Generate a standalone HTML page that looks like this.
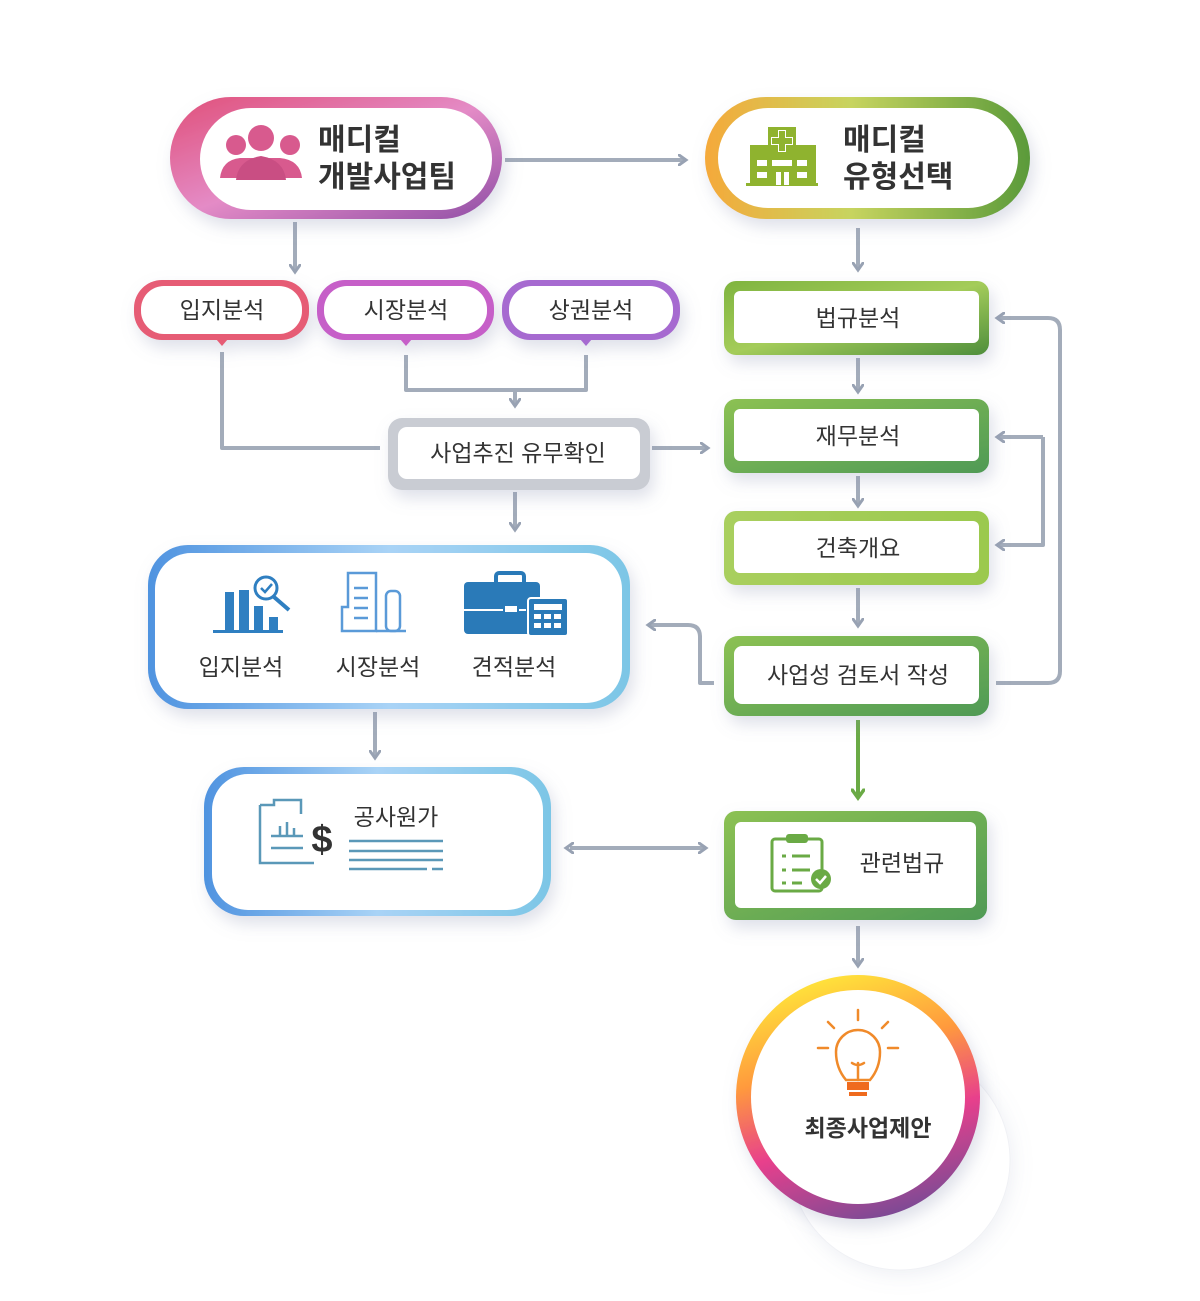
<!DOCTYPE html>
<html><head><meta charset="utf-8"><style>
html,body{margin:0;padding:0;background:#fff}
svg{display:block}
text{font-family:"Liberation Sans","Noto Sans CJK KR",sans-serif;fill:#333}
</style></head><body>
<svg width="1200" height="1301" viewBox="0 0 1200 1301" xmlns="http://www.w3.org/2000/svg">
<defs>
<linearGradient id="gPink" x1="0" y1="0" x2="1" y2="1"><stop offset="0" stop-color="#e0507a"/><stop offset="0.5" stop-color="#e48bc6"/><stop offset="1" stop-color="#8f4ea6"/></linearGradient>
<linearGradient id="gOG" x1="0" y1="0" x2="1" y2="0"><stop offset="0" stop-color="#f5a93a"/><stop offset="0.45" stop-color="#c7d45f"/><stop offset="1" stop-color="#5a9a3a"/></linearGradient>
<linearGradient id="gGreen" x1="0" y1="0" x2="1" y2="1"><stop offset="0" stop-color="#7fb43f"/><stop offset="0.5" stop-color="#a4cc5a"/><stop offset="1" stop-color="#4f8e3c"/></linearGradient>
<linearGradient id="gGreen2" x1="0" y1="0" x2="1" y2="1"><stop offset="0" stop-color="#8cc152"/><stop offset="1" stop-color="#4f9a55"/></linearGradient>
<linearGradient id="gLG" x1="0" y1="0" x2="1" y2="0"><stop offset="0" stop-color="#a9cf5e"/><stop offset="1" stop-color="#9bc94e"/></linearGradient>
<linearGradient id="gBlue" x1="0" y1="0" x2="1" y2="0"><stop offset="0" stop-color="#4f93e0"/><stop offset="0.5" stop-color="#a9d3f6"/><stop offset="1" stop-color="#7cc6e6"/></linearGradient>
<linearGradient id="gRing" x1="0.3" y1="0" x2="0.6" y2="1"><stop offset="0" stop-color="#ffe83a"/><stop offset="0.35" stop-color="#ff9a3d"/><stop offset="0.65" stop-color="#e8408c"/><stop offset="1" stop-color="#7c4a95"/></linearGradient>
<filter id="sh" x="-20%" y="-20%" width="140%" height="160%"><feDropShadow dx="4" dy="8" stdDeviation="8" flood-color="#8890b0" flood-opacity="0.28"/></filter>
<filter id="sh2" x="-30%" y="-30%" width="160%" height="160%"><feDropShadow dx="2" dy="4" stdDeviation="10" flood-color="#8890b0" flood-opacity="0.15"/></filter>
<marker id="ah" viewBox="0 0 12 12" refX="8" refY="6" markerWidth="12" markerHeight="12" markerUnits="userSpaceOnUse" orient="auto"><path d="M1,1 L8,6 L1,11" fill="none" stroke="#98a2b3" stroke-width="3" stroke-linecap="round"/></marker>
<marker id="ahs" viewBox="0 0 12 12" refX="4" refY="6" markerWidth="12" markerHeight="12" markerUnits="userSpaceOnUse" orient="auto-start-reverse"><path d="M1,1 L8,6 L1,11" fill="none" stroke="#98a2b3" stroke-width="3" stroke-linecap="round"/></marker>
<marker id="ahg" viewBox="0 0 12 12" refX="8" refY="6" markerWidth="14" markerHeight="14" markerUnits="userSpaceOnUse" orient="auto"><path d="M1,1 L8,6 L1,11" fill="none" stroke="#6aaa45" stroke-width="3" stroke-linecap="round"/></marker>
</defs>

<g fill="none" stroke="#a3acba" stroke-width="4" stroke-linejoin="round">
<path d="M505,160 H686" marker-end="url(#ah)"/>
<path d="M295,222 V272" marker-end="url(#ah)"/>
<path d="M858,228 V270" marker-end="url(#ah)"/>
<path d="M222,352 V448 H380"/>
<path d="M406,355 V390 H586 V355"/>
<path d="M515,390 V406" marker-end="url(#ah)"/>
<path d="M652,448 H708" marker-end="url(#ah)"/>
<path d="M515,492 V530" marker-end="url(#ah)"/>
<path d="M858,358 V392" marker-end="url(#ah)"/>
<path d="M858,476 V506" marker-end="url(#ah)"/>
<path d="M858,588 V626" marker-end="url(#ah)"/>
<path d="M996,683 H1048 Q1060,683 1060,671 V330 Q1060,318 1048,318 H997" marker-end="url(#ah)"/>
<path d="M1043,437 V545 H997" marker-end="url(#ah)"/>
<path d="M1043,437 H997" marker-end="url(#ah)"/>
<path d="M714,683 H700 V637 Q700,625 688,625 H648" marker-end="url(#ah)"/>
<path d="M375,712 V758" marker-end="url(#ah)"/>
<path d="M570,848 H706" marker-start="url(#ahs)" marker-end="url(#ah)"/>
<path d="M858,926 V966" marker-end="url(#ah)"/>
</g>
<path d="M858,720 V798" stroke="#6aaa45" stroke-width="4" fill="none" marker-end="url(#ahg)"/>

<g filter="url(#sh)">
<rect x="170" y="97" width="332" height="122" rx="61" fill="url(#gPink)"/>
<rect x="200" y="108" width="292" height="102" rx="51" fill="#fff"/>
</g>
<g fill="#d85a8e">
<circle cx="236" cy="145" r="10"/><circle cx="290" cy="145" r="10"/><circle cx="261" cy="138" r="13"/>
<path d="M220,178 Q222,160 240,158 H280 Q300,160 302,178 Z"/>
<path d="M236,180 Q238,160 261,156 Q284,160 286,180 Z" fill="#c94e83"/>
</g>
<text x="318" y="150" font-size="30" font-weight="bold" fill="#222">매디컬</text>
<text x="318" y="187" font-size="30" font-weight="bold" fill="#222">개발사업팀</text>

<g filter="url(#sh)">
<rect x="705" y="97" width="325" height="122" rx="61" fill="url(#gOG)"/>
<rect x="718" y="108" width="300" height="100" rx="50" fill="#fff"/>
</g>
<g fill="#8fb32f">
<rect x="768" y="127" width="28" height="30"/>
<rect x="750" y="145" width="66" height="40"/>
<rect x="746" y="183" width="72" height="3"/>
</g>
<g fill="#fff"><rect x="778" y="130" width="8" height="22"/><rect x="771" y="137" width="22" height="8"/>
<rect x="757" y="160" width="10" height="6"/><rect x="772" y="160" width="20" height="6"/><rect x="797" y="160" width="10" height="6"/>
<rect x="757" y="172" width="10" height="6"/><rect x="797" y="172" width="10" height="6"/><rect x="776" y="172" width="5" height="13"/><rect x="784" y="172" width="5" height="13"/></g>
<g fill="#8fb32f"><rect x="779" y="131" width="6" height="20"/><rect x="772" y="138" width="20" height="6"/></g>
<text x="843" y="150" font-size="30" font-weight="bold" fill="#222">매디컬</text>
<text x="843" y="187" font-size="30" font-weight="bold" fill="#222">유형선택</text>

<g filter="url(#sh)">
<rect x="134" y="280" width="175" height="60" rx="28" fill="#e65b74"/>
<rect x="141" y="286" width="161" height="48" rx="23" fill="#fff"/>
<path d="M216,339 L222,346 L228,339 Z" fill="#e65b74"/>
<rect x="317" y="280" width="177" height="60" rx="28" fill="#c65ec8"/>
<rect x="324" y="286" width="163" height="48" rx="23" fill="#fff"/>
<path d="M400,339 L406,346 L412,339 Z" fill="#c65ec8"/>
<rect x="502" y="280" width="178" height="60" rx="28" fill="#a66bd0"/>
<rect x="509" y="286" width="164" height="48" rx="23" fill="#fff"/>
<path d="M580,339 L586,346 L592,339 Z" fill="#a66bd0"/>
</g>
<text x="222" y="318" font-size="23" text-anchor="middle">입지분석</text>
<text x="406" y="318" font-size="23" text-anchor="middle">시장분석</text>
<text x="591" y="318" font-size="23" text-anchor="middle">상권분석</text>

<g filter="url(#sh)">
<rect x="388" y="418" width="262" height="72" rx="14" fill="#c9ccd3"/>
<rect x="398" y="427" width="242" height="52" rx="9" fill="#fff"/>
</g>
<text x="518" y="461" font-size="23" text-anchor="middle">사업추진 유무확인</text>

<g filter="url(#sh)">
<rect x="724" y="281" width="265" height="74" rx="12" fill="url(#gGreen)"/>
<rect x="734" y="291" width="245" height="52" rx="6" fill="#fff"/>
<rect x="724" y="399" width="265" height="74" rx="12" fill="url(#gGreen2)"/>
<rect x="734" y="409" width="245" height="52" rx="6" fill="#fff"/>
<rect x="724" y="511" width="265" height="74" rx="12" fill="url(#gLG)"/>
<rect x="734" y="521" width="245" height="52" rx="6" fill="#fff"/>
<rect x="724" y="636" width="265" height="80" rx="14" fill="url(#gGreen2)"/>
<rect x="734" y="646" width="245" height="58" rx="8" fill="#fff"/>
<rect x="724" y="811" width="263" height="109" rx="12" fill="url(#gGreen2)"/>
<rect x="735" y="822" width="241" height="86" rx="6" fill="#fff"/>
</g>
<text x="858" y="326" font-size="23" text-anchor="middle">법규분석</text>
<text x="858" y="444" font-size="23" text-anchor="middle">재무분석</text>
<text x="858" y="556" font-size="23" text-anchor="middle">건축개요</text>
<text x="858" y="683" font-size="23" text-anchor="middle">사업성 검토서 작성</text>
<text x="902" y="871" font-size="23" text-anchor="middle">관련법규</text>
<g fill="none" stroke="#6aaa45" stroke-width="3">
<rect x="772" y="839" width="50" height="52" rx="3"/>
<path d="M782,856 h4 M792,856 h18 M782,870 h4 M792,870 h18 M782,883 h4 M792,883 h10"/>
</g>
<rect x="786" y="834" width="22" height="9" rx="3" fill="#6aaa45"/>
<circle cx="821" cy="879" r="10" fill="#6aaa45"/>
<path d="M816,879 l4,4 l6,-7" stroke="#fff" stroke-width="2.5" fill="none"/>

<g filter="url(#sh)">
<rect x="148" y="545" width="482" height="164" rx="40" fill="url(#gBlue)"/>
<rect x="155" y="553" width="467" height="150" rx="36" fill="#fff"/>
</g>
<g fill="#2f7fc1">
<rect x="225" y="592" width="9" height="40"/><rect x="239" y="590" width="10" height="42"/><rect x="254" y="606" width="9" height="26"/><rect x="269" y="617" width="9" height="15"/>
<rect x="213" y="630" width="70" height="3"/>
</g>
<circle cx="266" cy="588" r="11" fill="#fff" stroke="#2f7fc1" stroke-width="3"/>
<path d="M261,588 l4,4 l7,-8" stroke="#2f7fc1" stroke-width="2.5" fill="none"/>
<path d="M274,597 l15,13" stroke="#2f7fc1" stroke-width="4"/>
<g fill="none" stroke="#5a9ad8" stroke-width="2.5">
<path d="M348,573 h28 v58 h-34 v-24 h6 Z"/>
<rect x="386" y="591" width="14" height="40" rx="5"/>
<path d="M354,588 h14 M354,598 h14 M354,608 h14 M354,618 h14"/>
<path d="M376,631 h30"/>
</g>
<rect x="464" y="582" width="76" height="52" rx="4" fill="#2a7ab8"/>
<rect x="496" y="573" width="28" height="12" rx="3" fill="none" stroke="#2a7ab8" stroke-width="4"/>
<path d="M464,610 h62" stroke="#fff" stroke-width="2"/>
<rect x="504" y="605" width="14" height="8" fill="#fff" stroke="#2a7ab8" stroke-width="2"/>
<rect x="528" y="598" width="40" height="38" rx="3" fill="#2a7ab8" stroke="#fff" stroke-width="2"/>
<g fill="#fff"><rect x="534" y="604" width="28" height="6"/><rect x="534" y="614" width="7" height="5"/><rect x="544" y="614" width="7" height="5"/><rect x="554" y="614" width="7" height="5"/><rect x="534" y="623" width="7" height="5"/><rect x="544" y="623" width="7" height="5"/><rect x="554" y="623" width="7" height="5"/></g>
<text x="241" y="675" font-size="23" text-anchor="middle">입지분석</text>
<text x="378" y="675" font-size="23" text-anchor="middle">시장분석</text>
<text x="514" y="675" font-size="23" text-anchor="middle">견적분석</text>

<g filter="url(#sh)">
<rect x="204" y="767" width="347" height="149" rx="40" fill="url(#gBlue)"/>
<rect x="212" y="774" width="331" height="136" rx="36" fill="#fff"/>
</g>
<g fill="none" stroke="#5a98b8" stroke-width="2.5">
<path d="M260,805 h14 v-5 h27 v14 M260,805 v58 h54"/>
<path d="M271,836 h32 M271,848 h32"/>
<path d="M280,836 v-10 M287,836 v-14 M294,836 v-8"/>
<path d="M349,841 h94 M349,851 h94 M349,860 h94 M349,869 h78 M432,869 h11"/>
</g>
<text x="322" y="852" font-size="38" font-weight="bold" fill="#4b93b8" text-anchor="middle">$</text>
<text x="396" y="825" font-size="23" text-anchor="middle">공사원가</text>

<circle cx="900" cy="1160" r="110" fill="#fff" stroke="#f0f1f5" stroke-width="1" filter="url(#sh2)"/>
<g filter="url(#sh)">
<circle cx="858" cy="1097" r="122" fill="url(#gRing)"/>
<circle cx="858" cy="1097" r="107" fill="#fff"/>
</g>
<g fill="none" stroke="#f08a2a" stroke-width="2.5" stroke-linecap="round">
<path d="M858,1010 v10 M828,1022 l6,6 M888,1022 l-6,6 M818,1048 h10 M888,1048 h10"/>
<path d="M846,1080 Q836,1068 836,1052 A22,22 0 0 1 880,1052 Q880,1068 870,1080 Z"/>
<path d="M852,1063 q6,4 12,0 M858,1063 v17"/>
</g>
<path d="M847,1082 h22 v8 h-22z M849,1092 h18 v4 h-18z" fill="#ef6b1e"/>
<text x="868" y="1136" font-size="23" font-weight="bold" fill="#333" text-anchor="middle">최종사업제안</text>
</svg>
</body></html>
